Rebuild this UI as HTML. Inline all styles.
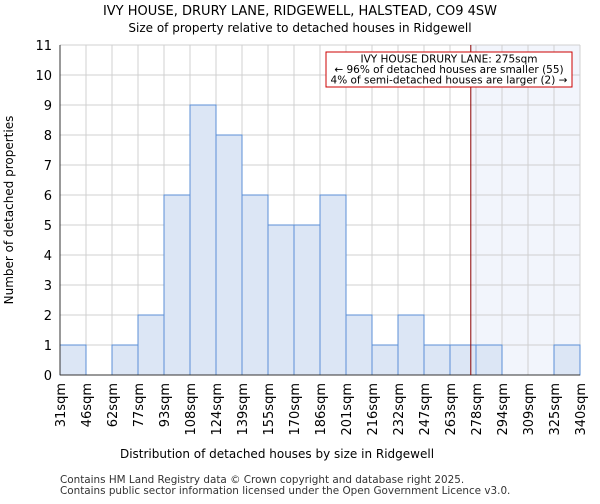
<!DOCTYPE html>
<html><head><meta charset="utf-8"><style>
body{margin:0;background:#fff;font-family:"DejaVu Sans","Liberation Sans",sans-serif;}
svg text{font-family:"DejaVu Sans","Liberation Sans",sans-serif;}
</style></head><body>
<svg id="c" width="600" height="500" xmlns="http://www.w3.org/2000/svg">
<text x="300" y="15" text-anchor="middle" font-size="13">IVY HOUSE, DRURY LANE, RIDGEWELL, HALSTEAD, CO9 4SW</text>
<text x="300" y="32" text-anchor="middle" font-size="12">Size of property relative to detached houses in Ridgewell</text>
<g id="plot"></g>
<text x="277" y="458" text-anchor="middle" font-size="12">Distribution of detached houses by size in Ridgewell</text>
<text transform="translate(13,210) rotate(-90)" text-anchor="middle" font-size="12">Number of detached properties</text>
<text x="60" y="483" font-size="10.4" fill="#333">Contains HM Land Registry data © Crown copyright and database right 2025.</text>
<text x="60" y="494" font-size="10.4" fill="#333">Contains public sector information licensed under the Open Government Licence v3.0.</text>
</svg>
<script>
const categories=["31sqm","46sqm","62sqm","77sqm","93sqm","108sqm","124sqm","139sqm","155sqm","170sqm","186sqm","201sqm","216sqm","232sqm","247sqm","263sqm","278sqm","294sqm","309sqm","325sqm","340sqm"];
const binStarts=[31,46,62,77,93,108,124,139,155,170,186,201,216,232,247,263,278,294,309,325,340];
const counts=[1,0,1,2,6,9,8,6,5,5,6,2,1,2,1,1,1,0,0,1];
const yTicks=[0,1,2,3,4,5,6,7,8,9,10,11];
const subjectSize=275;
const annotationLines=["IVY HOUSE DRURY LANE: 275sqm","← 96% of detached houses are smaller (55)","4% of semi-detached houses are larger (2) →"];
const X0=60,X1=580,Y0=375,Y1=45;
const nb=counts.length;
function xIdx(i){return X0+i*(X1-X0)/nb;}
function xVal(v){let i=0;while(i<nb-1&&v>=binStarts[i+1])i++;return xIdx(i)+(v-binStarts[i])/(binStarts[i+1]-binStarts[i])*(X1-X0)/nb;}
function y(v){return Y0-v*(Y0-Y1)/11;}
const g=document.getElementById('plot');const NS="http://www.w3.org/2000/svg";
function el(t,a){const e=document.createElementNS(NS,t);for(const k in a)e.setAttribute(k,a[k]);g.appendChild(e);return e;}
const sx=xVal(subjectSize);
let e=el('rect',{x:sx,y:Y1,width:X1-sx,height:Y0-Y1,fill:'#f2f5fc'});


for(let i=0;i<=nb;i++){e=el('line',{x1:xIdx(i),x2:xIdx(i),y1:Y1,y2:Y0,stroke:'#d0d0d0','stroke-width':1});

}
yTicks.forEach(t=>{e=el('line',{x1:X0,x2:X1,y1:y(t),y2:y(t),stroke:'#d0d0d0','stroke-width':1});


e=el('text',{x:X0-8,y:y(t)+5,'text-anchor':'end','font-size':13});e.textContent=t;

});
counts.forEach((c,i)=>{if(c>0){e=el('rect',{x:xIdx(i),y:y(c),width:(X1-X0)/nb,height:Y0-y(c),fill:'#dce6f5',stroke:'#5b8fd6','stroke-width':1});

}});
categories.forEach((c,i)=>{const xx=xIdx(i);e=el('text',{transform:`translate(${xx+5},383) rotate(-90)`,'text-anchor':'end','font-size':13});e.textContent=c;

});
e=el('line',{x1:X0,x2:X0,y1:Y1,y2:Y0,stroke:'#333'});


e=el('line',{x1:X0,x2:X1,y1:Y0,y2:Y0,stroke:'#333'});


e=el('line',{x1:sx,x2:sx,y1:Y1,y2:Y0,stroke:'#8a0000','stroke-width':1});


e=el('rect',{x:326,y:52,width:246,height:35,fill:'#fff',stroke:'#cc0000','stroke-width':1});


annotationLines.forEach((l,i)=>{e=el('text',{x:449,y:62.5+i*10.5,'text-anchor':'middle','font-size':10.5});e.textContent=l;

});
</script>
</body></html>
